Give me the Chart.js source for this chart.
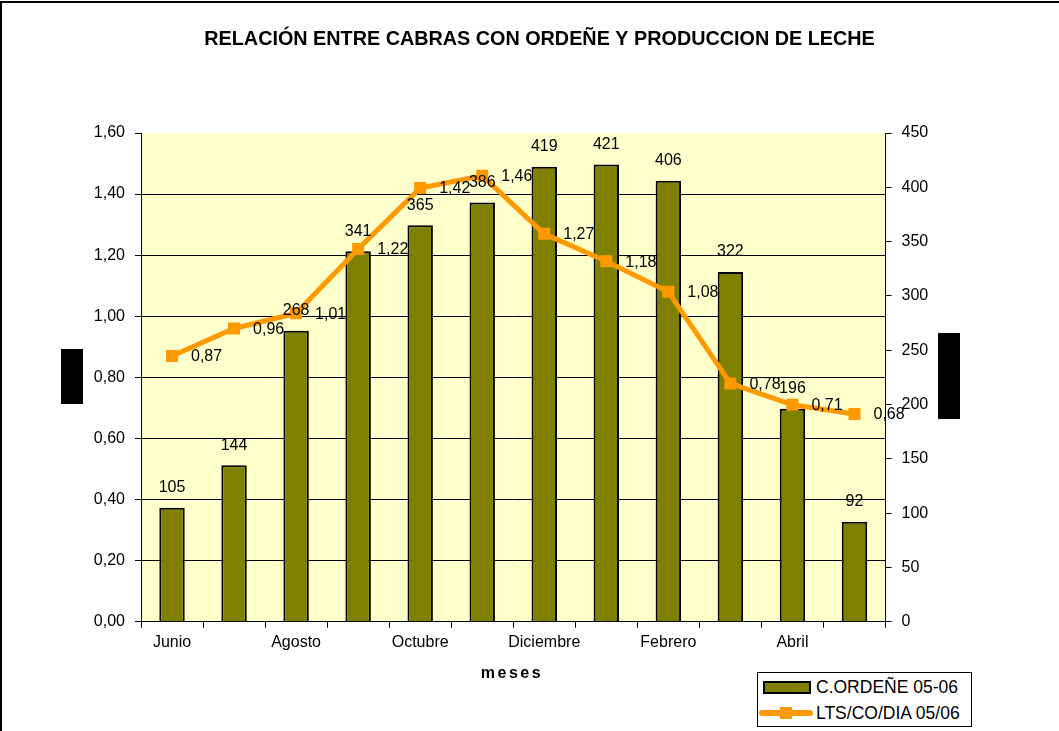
<!DOCTYPE html>
<html>
  <head>
    <meta charset="utf-8" />
    <script src="https://cdn.jsdelivr.net/npm/chart.js"></script>
    <style>
      body { margin: 0; background: #fff; }
      #marco { position: relative; width: 1059px; height: 731px; overflow: hidden; }
      #borde { position: absolute; left: 0; top: 1px; width: 1200px; height: 800px;
               border-left: 2px solid #000; border-top: 2px solid #000; }
      .bloque { position: absolute; background: #000; }
      #leyenda { position: absolute; left: 757px; top: 672px; width: 213px; height: 53px;
                 border: 1px solid #000; background: #fff;
                 font-family: "Liberation Sans", Arial, sans-serif; font-size: 17.5px; }
      .fila { position: absolute; left: 0; height: 26px; line-height: 26px; white-space: nowrap; }
      .fila span.txt { position: absolute; left: 58px; }
      .muestra { position: absolute; }
    </style>
  </head>

  <body>
    <div id="marco">
      <div id="borde"></div>
      <canvas id="grafico" width="1059" height="731"></canvas>
      <div class="bloque" style="left: 61px; top: 349px; width: 22px; height: 55px"></div>
      <div class="bloque" style="left: 938px; top: 333px; width: 22px; height: 86px"></div>
      <div id="leyenda"></div>
    </div>
  </body>

  <script>
    const meses = ["Junio", "Julio", "Agosto", "Septiembre", "Octubre", "Noviembre",
                   "Diciembre", "Enero", "Febrero", "Marzo", "Abril", "Mayo"];
    // cabras en ordeño (eje derecho)
    const cabrasOrdene = [105, 144, 268, 341, 365, 386, 419, 421, 406, 322, 196, 92];
    // litros por cabra por dia (eje izquierdo)
    const litrosCabraDia = [0.87, 0.96, 1.01, 1.22, 1.42, 1.46, 1.27, 1.18, 1.08, 0.78, 0.71, 0.68];
    const ticksLitros = [0, 0.2, 0.4, 0.6, 0.8, 1.0, 1.2, 1.4, 1.6];
    const ticksCabras = [0, 50, 100, 150, 200, 250, 300, 350, 400, 450];
    const titulo = "RELACIÓN ENTRE CABRAS CON ORDEÑE Y PRODUCCION DE LECHE";
    const tituloX = "meses";

    const fuente = "'Liberation Sans', Arial, sans-serif";
    const coma = (v) => v.toFixed(2).replace(".", ",");

    Chart.defaults.font.family = fuente;
    Chart.defaults.font.size = 16;
    Chart.defaults.color = "#000";

    const fondo = {
      id: "fondo",
      beforeDraw(chart) {
        const a = chart.chartArea;
        chart.ctx.save();
        chart.ctx.fillStyle = "#FFFFCC";
        chart.ctx.fillRect(a.left, a.top, a.right - a.left, a.bottom - a.top);
        chart.ctx.restore();
      },
    };

    const etiquetas = {
      id: "etiquetas",
      afterDatasetsDraw(chart) {
        const ctx = chart.ctx;
        ctx.save();
        ctx.font = "16px " + fuente;
        ctx.fillStyle = "#000";
        ctx.textBaseline = "middle";
        ctx.textAlign = "center";
        chart.getDatasetMeta(0).data.forEach((b, i) => {
          ctx.fillText(String(cabrasOrdene[i]), b.x, b.y - 20);
        });
        ctx.textAlign = "left";
        chart.getDatasetMeta(1).data.forEach((p, i) => {
          ctx.fillText(coma(litrosCabraDia[i]), p.x + 19, p.y + 1);
        });

        // titulo y nombre del eje x
        ctx.textAlign = "center";
        ctx.font = "bold 19.8px " + fuente;
        ctx.fillText(titulo, 539.5, 40);
        ctx.font = "bold 16px " + fuente;
        ctx.letterSpacing = "2.5px";
        ctx.fillText(tituloX, 512, 674);
        ctx.restore();
      },
    };

    const ctx = document.getElementById("grafico").getContext("2d");
    const chart = new Chart(ctx, {
      data: {
        labels: meses,
        datasets: [
          {
            type: "bar",
            label: "C.ORDEÑE 05-06",
            data: cabrasOrdene,
            yAxisID: "y1",
            backgroundColor: "#808000",
            borderColor: "#000",
            borderWidth: 2,
            barPercentage: 0.41,
            categoryPercentage: 1,
            order: 1,
          },
          {
            type: "line",
            label: "LTS/CO/DIA 05/06",
            data: litrosCabraDia,
            yAxisID: "y",
            borderColor: "#FF9900",
            backgroundColor: "#FF9900",
            borderWidth: 5,
            pointStyle: "rect",
            pointRadius: 8.5,
            pointBorderWidth: 0,
            tension: 0,
            order: 0,
          },
        ],
      },
      options: {
        responsive: false,
        animation: false,
        devicePixelRatio: 1,
        layout: { padding: { top: 133, left: 0, right: 0, bottom: 0 } },
        plugins: {
          legend: { display: false },
          title: { display: false },
          tooltip: { enabled: false },
        },
        scales: {
          x: {
            offset: true,
            grid: { offset: true, drawOnChartArea: false, tickLength: 6, tickColor: "#000" },
            border: { color: "#000", width: 1 },
            ticks: {
              autoSkip: false,
              maxRotation: 0,
              padding: 5,
              callback: (v, i) => (i % 2 === 0 ? meses[i] : ""),
            },
            afterFit: (s) => { s.height = 109.3; },
          },
          y: {
            position: "left",
            min: 0,
            max: 1.6,
            afterBuildTicks: (s) => { s.ticks = ticksLitros.map((v) => ({ value: v })); },
            ticks: { padding: 10, callback: (v) => coma(v) },
            grid: {
              color: (c) => (c.tick && c.tick.value >= 1.6 ? "rgba(0,0,0,0)" : "#000"),
              tickColor: "#000",
              tickLength: 6,
            },
            border: { color: "#000", width: 1 },
            afterFit: (s) => { s.width = 141; },
          },
          y1: {
            position: "right",
            min: 0,
            max: 450,
            afterBuildTicks: (s) => { s.ticks = ticksCabras.map((v) => ({ value: v })); },
            ticks: { padding: 10 },
            grid: { drawOnChartArea: false, tickColor: "#000", tickLength: 6 },
            border: { color: "#000", width: 1 },
            afterFit: (s) => { s.width = 173.5; },
          },
        },
      },
      plugins: [fondo, etiquetas],
    });

    // leyenda a partir de los datasets
    const leyenda = document.getElementById("leyenda");
    chart.data.datasets.forEach((ds, i) => {
      const fila = document.createElement("div");
      fila.className = "fila";
      fila.style.top = 1 + i * 26 + "px";
      fila.style.width = "213px";
      const m = document.createElement("div");
      m.className = "muestra";
      if (ds.type === "bar") {
        m.style.cssText = "left:5px;top:7px;width:44px;height:9px;border:2px solid #000;background:" + ds.backgroundColor;
      } else {
        m.style.cssText = "left:1px;top:10px;width:54px;height:6px;border-radius:3px;background:" + ds.borderColor;
        const p = document.createElement("div");
        p.style.cssText = "position:absolute;left:21px;top:-3px;width:12px;height:12px;background:" + ds.borderColor;
        m.appendChild(p);
      }
      const t = document.createElement("span");
      t.className = "txt";
      t.textContent = ds.label;
      fila.appendChild(m);
      fila.appendChild(t);
      leyenda.appendChild(fila);
    });
  </script>
</html>
